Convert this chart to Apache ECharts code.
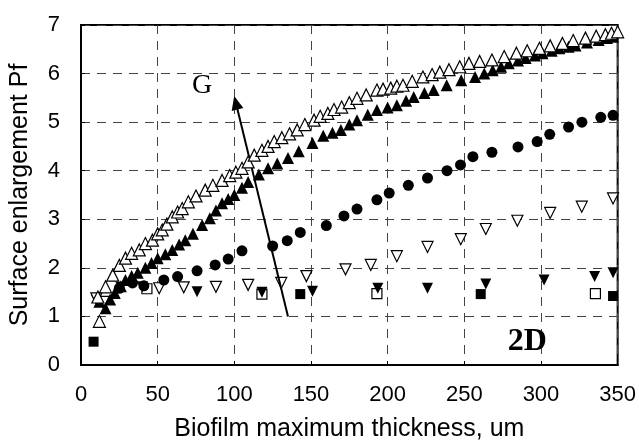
<!DOCTYPE html>
<html>
<head>
<meta charset="utf-8">
<script src="https://cdn.jsdelivr.net/npm/echarts@6/dist/echarts.min.js"></script>
<style>html,body{margin:0;padding:0;background:#fff;}#c{width:639px;height:447px;}</style>
</head>
<body>
<div id="c"></div>
<script>
var xTicks = [0, 50, 100, 150, 200, 250, 300, 350];
var yTicks = [0, 1, 2, 3, 4, 5, 6, 7];

var openTriangles = [[11,1.4],[12,0.9],[16,1.61],[20.7,1.85],[25,2.05],[29,2.2],[33,2.3],[38,2.37],[42,2.5],[46.6,2.57],[50,2.7],[53,2.78],[56,2.9],[59.5,3.05],[63,3.15],[66,3.22],[70,3.36],[75,3.48],[81,3.6],[86,3.7],[92,3.8],[97,3.9],[101,3.97],[105,4.05],[109,4.18],[113,4.32],[118,4.42],[122,4.5],[126,4.6],[131,4.68],[136,4.76],[141,4.84],[146,4.95],[152,5.04],[156,5.12],[161,5.18],[165,5.26],[170,5.31],[175,5.4],[180,5.49],[186,5.56],[193,5.66],[197,5.68],[202,5.7],[206,5.74],[210,5.76],[216,5.84],[223,5.93],[229,5.98],[234,6.03],[240,6.08],[247,6.14],[253,6.21],[260,6.25],[268,6.28],[276,6.35],[284,6.42],[291,6.47],[299,6.52],[306,6.57],[314,6.62],[321,6.68],[329,6.73],[336,6.77],[342,6.8],[346,6.83],[350,6.86]];

var filledTriangles = [[12,1.3],[16,1.17],[19,1.35],[22,1.48],[26,1.62],[29,1.75],[33,1.83],[37,1.9],[42,2.0],[46,2.1],[50,2.2],[55,2.28],[59.5,2.37],[64,2.48],[68,2.57],[73,2.7],[79,2.88],[84,3.02],[88,3.18],[92,3.33],[96,3.42],[100,3.5],[105,3.65],[109,3.77],[116,3.92],[122,4.05],[128,4.15],[135,4.26],[142,4.4],[151,4.57],[158,4.72],[164,4.78],[169.5,4.84],[175,4.95],[180,5.04],[187,5.15],[193,5.25],[200,5.3],[206,5.35],[212,5.44],[217,5.52],[224,5.6],[230,5.66],[238.5,5.76],[248,5.86],[257,5.93],[263,6.0],[268.5,6.07],[274,6.14],[279,6.21],[285,6.27],[290,6.32],[296,6.37],[301,6.42],[307,6.47],[312,6.52],[318,6.55],[322.5,6.58],[330,6.64],[337.6,6.69],[343,6.73],[347,6.76]];

var filledCircles = [[25,1.58],[33.6,1.69],[41,1.63],[54,1.75],[63,1.82],[75.7,1.94],[87.5,2.06],[96,2.18],[105,2.35],[125,2.45],[134.5,2.56],[143,2.73],[160,2.87],[171.5,3.07],[180,3.21],[193,3.4],[201,3.54],[213.5,3.7],[226,3.85],[238.7,4.0],[247.5,4.12],[255.6,4.29],[268,4.38],[285,4.49],[297.5,4.6],[305.7,4.75],[318,4.9],[326.7,5.0],[339,5.1],[347,5.14]];

var openInvTriangles = [[10,1.37],[15,1.3],[51,1.58],[67,1.6],[88,1.61],[109,1.65],[130.6,1.69],[147,1.83],[172.5,1.97],[189,2.06],[206,2.24],[226,2.43],[247.7,2.59],[264,2.8],[284.6,2.97],[306,3.13],[326.6,3.26],[347,3.43]];

var filledInvTriangles = [[10,1.34],[14,1.28],[26,1.6],[40,1.61],[75.7,1.51],[118,1.5],[151,1.52],[193.6,1.58],[226,1.58],[264,1.67],[302,1.75],[335,1.82],[347,1.9]];

var filledSquares = [[8.2,0.48],[143,1.46],[260.7,1.46],[347,1.42]];
var openSquares = [[43,1.57],[118,1.46],[193,1.47],[335.5,1.47]];

var arrowFrom = [135, 1.0];
var arrowTo = [101, 5.4];
var labelG = {text: 'G', pos: [79, 5.76]};
var label2D = {text: '2D', pos: [291, 0.47]};

var chart = echarts.init(document.getElementById('c'));
var base = {type: 'scatter', animation: false, silent: true};
function sc(data, symbol, size, fill, rot, z) {
  return Object.assign({}, base, {
    data: data, symbol: symbol, symbolSize: size, symbolRotate: rot || 0, z: z || 2,
    itemStyle: {color: fill, borderColor: '#000', borderWidth: fill === '#fff' ? 1.2 : 0, opacity: 1}
  });
}
chart.setOption({
  backgroundColor: '#fff',
  animation: false,
  grid: {left: 78, right: 20, top: 25, bottom: 82, show: true, borderColor: '#000', borderWidth: 2},
  xAxis: {
    type: 'value', min: 0, max: 350, interval: 50,
    axisLine: {show: true, lineStyle: {color: '#000', width: 2}},
    axisTick: {show: true, inside: true, length: 4, lineStyle: {color: '#000'}},
    axisLabel: {color: '#000', fontSize: 22, fontFamily: 'Liberation Sans, Arial', margin: 19},
    splitLine: {show: true, lineStyle: {color: '#444', type: [9, 7], width: 1}},
    name: 'Biofilm maximum thickness, um', nameLocation: 'middle', nameGap: 52,
    nameTextStyle: {color: '#000', fontSize: 25, fontFamily: 'Liberation Sans, Arial'}
  },
  yAxis: {
    type: 'value', min: 0, max: 7, interval: 1,
    axisLine: {show: true, lineStyle: {color: '#000', width: 2}},
    axisTick: {show: true, inside: true, length: 4, lineStyle: {color: '#000'}},
    axisLabel: {color: '#000', fontSize: 22, fontFamily: 'Liberation Sans, Arial', margin: 21},
    splitLine: {show: true, lineStyle: {color: '#444', type: [9, 7], width: 1}},
    name: 'Surface enlargement Pf', nameLocation: 'middle', nameGap: 48,
    nameTextStyle: {color: '#000', fontSize: 25, fontFamily: 'Liberation Sans, Arial'}
  },
  series: [
    sc(filledSquares, 'rect', 10, '#000', 0, 2),
    sc(openSquares, 'rect', 10, '#fff', 0, 2),
    sc(filledInvTriangles, 'triangle', 11, '#000', 180, 3),
    sc(openInvTriangles, 'triangle', 11, '#fff', 180, 3),
    sc(filledCircles, 'circle', 11, '#000', 0, 3),
    sc(filledTriangles, 'triangle', 12, '#000', 0, 4),
    sc(openTriangles, 'triangle', 12, '#fff', 0, 5),
    {
      type: 'line', data: [], silent: true, z: 6,
      markLine: {
        silent: true, animation: false, symbol: ['none', 'triangle'], symbolSize: [12, 14],
        label: {show: false},
        lineStyle: {color: '#000', width: 2, type: 'solid'},
        data: [[{coord: arrowFrom}, {coord: arrowTo}]]
      },
      markPoint: {
        silent: true, animation: false, symbol: 'circle', symbolSize: 0,
        data: [
          {coord: labelG.pos, label: {show: true, formatter: labelG.text, color: '#000', fontSize: 28, fontFamily: 'Liberation Serif, Times New Roman'}},
          {coord: label2D.pos, label: {show: true, formatter: label2D.text, color: '#000', fontSize: 32, fontWeight: 'bold', fontFamily: 'Liberation Serif, Times New Roman'}}
        ]
      }
    }
  ]
});
</script>
</body>
</html>
